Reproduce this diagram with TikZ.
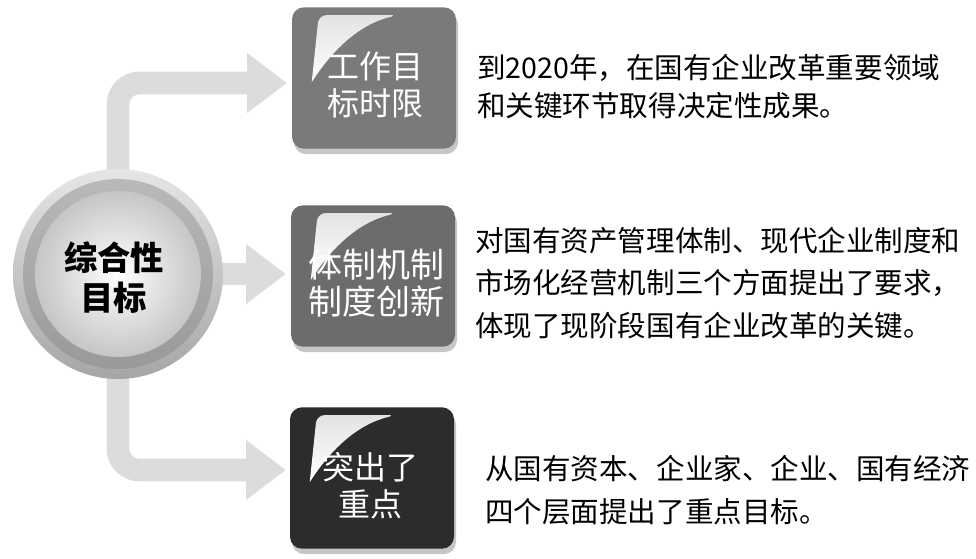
\documentclass[tikz,border=0pt]{standalone}
\usepackage{fontspec}
\setmainfont{Noto Sans CJK SC}
\usepackage{tikz}
\usetikzlibrary{calc,positioning,shadows,arrows.meta}

\definecolor{arrowgray}{HTML}{DCDCDC}
\definecolor{boxgrayA}{HTML}{7A7A7A}
\definecolor{boxgrayB}{HTML}{6C6C6C}
\definecolor{boxdark}{HTML}{2C2C2C}

\begin{document}
\begin{tikzpicture}[x=0.75pt,y=-0.75pt,inner sep=0pt,
  fatarrow/.style={draw=arrowgray,line width=17pt,rounded corners=16pt,
    -{Triangle[width=43pt,length=30pt]}},
  goalbox/.style={rectangle,rounded corners=9pt,minimum width=123pt,minimum height=106pt,
    drop shadow={shadow xshift=1.5pt,shadow yshift=-4pt,fill=gray!45,opacity=1}},
  boxtext/.style={text=white,align=center,font=\fontsize{24pt}{28pt}\selectfont},
  desc/.style={anchor=west,align=left,font=\fontsize{21.4pt}{32pt}\selectfont},
  gloss/.style={top color=gray!22,bottom color=white}]
\useasboundingbox (0,0) rectangle (976,558);

\coordinate (a1) at (287,83);
\coordinate (a2) at (286,274);
\coordinate (a3) at (286,470);

% arrows behind the hub
\node[circle,minimum size=157pt] (hub) at (118,274) {};
\draw[fatarrow] (hub.center) |- (a1);
\draw[fatarrow] (hub.center) -- (a2);
\draw[fatarrow] (hub.center) |- (a3);

% hub
\path[top color=gray!20,bottom color=gray!70] (hub.center) circle [radius=105];
\path[top color=gray!55,bottom color=gray!80] (hub.center) circle [radius=95];
\shade[inner color=white,outer color=gray!45] (hub.center) circle [radius=83];
\node[font=\bfseries\fontsize{25pt}{30pt}\selectfont,align=center] (goal) at (114,278) {综合性\\目标};

% boxes
\node[goalbox,fill=boxgrayA] (b1) at (374,78) {};
\node[goalbox,fill=boxgrayB] (b2) at (373,276) {};
\node[goalbox,fill=boxdark] (b3) at (372,478) {};

\foreach \b in {b1,b2,b3}
  \path[gloss,rounded corners=6pt] ([shift={(20,75)}]\b.north west)
    -- ([shift={(27,8)}]\b.north west) -- ([shift={(106,8)}]\b.north west) [sharp corners]
    .. controls ([shift={(66,18)}]\b.north west) and ([shift={(40,44)}]\b.north west) .. cycle;

\node[boxtext] (t1) at (375,85) {工作目\\标时限};
\node[boxtext,font=\fontsize{25.5pt}{28pt}\selectfont] (t2) at (376,283) {体制机制\\制度创新};
\node[boxtext] (t3) at (370,486) {突出了\\重点};

% descriptions
\node[desc,font=\fontsize{21.4pt}{28.5pt}\selectfont] (d1) at (477,87)
  {到2020年，在国有企业改革重要领域\\和关键环节取得决定性成果。};
\node[desc] (d2) at (475,283)
  {对国有资产管理体制、现代企业制度和\\市场化经营机制三个方面提出了要求，\\体现了现阶段国有企业改革的关键。};
\node[desc] (d3) at (485,490)
  {从国有资本、企业家、企业、国有经济\\四个层面提出了重点目标。};
\end{tikzpicture}
\end{document}
